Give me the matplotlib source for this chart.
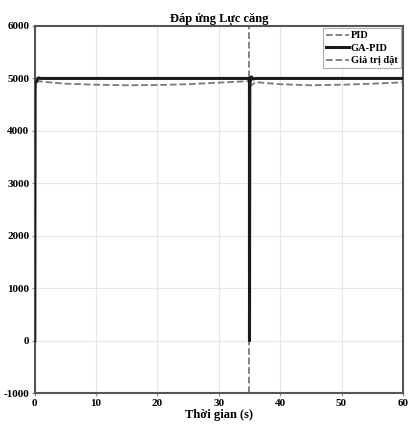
import numpy as np
import matplotlib.pyplot as plt

plt.rcParams['font.family'] = ['Liberation Serif', 'DejaVu Serif']
plt.rcParams['font.weight'] = 'bold'
plt.rcParams['axes.unicode_minus'] = False

# dữ liệu
t_pid = [0, 0.05, 0.5, 2, 5, 10, 15, 20, 25, 30, 34.99, 35, 35.05, 36, 40, 45, 50, 55, 60]
y_pid = [0, 4800, 4950, 4930, 4900, 4880, 4870, 4875, 4890, 4920, 4950, 0, 4850, 4930, 4890, 4870, 4880, 4900, 4925]

t_ga = [0, 0.05, 0.3, 0.6, 1, 34.99, 35.0, 35.05, 35.3, 35.6, 36, 60]
y_ga = [0, 4900, 4950, 5010, 5000, 5000, 0, 4900, 5030, 4990, 5000, 5000]

t_sp = [0, 35, 60]
y_sp = [5000, 5000, 5000]
t_step = 35

fig = plt.figure(figsize=(4.09, 4.26), dpi=100)
ax = fig.add_axes([0.085, 0.077, 0.900, 0.862])

ax.plot(t_sp, y_sp, '--', color='#7a7a7a', lw=1.3, label='Giá trị đặt', zorder=2)
ax.axvline(t_step, ls='--', color='#7a7a7a', lw=1.3, zorder=2)
ax.plot(t_pid, y_pid, '--', color='#7a7a7a', lw=1.3, label='PID', zorder=3)
ax.plot(t_ga, y_ga, '-', color='#1a1a1a', lw=2.2, label='GA-PID', zorder=4)

ax.set_xlim(0, 60)
ax.set_ylim(-1000, 6000)
ax.set_xticks(np.arange(0, 61, 10))
ax.set_yticks(np.arange(-1000, 6001, 1000))
ax.grid(True, color='#e6e6e6', lw=0.8)
ax.tick_params(labelsize=8, length=2, color='#888888', pad=2)
for s in ax.spines.values():
    s.set_color('#555555')
    s.set_linewidth(1.5)

ax.set_title('Đáp ứng Lực căng', fontsize=9, fontweight='bold', pad=3)
ax.set_xlabel('Thời gian (s)', fontsize=9, fontweight='bold', labelpad=1)

h, l = ax.get_legend_handles_labels()
order = [1, 2, 0]
leg = ax.legend([h[i] for i in order], [l[i] for i in order], loc='upper right',
                fontsize=7.5, fancybox=False, handlelength=2.2, handletextpad=0.2,
                borderpad=0.3, labelspacing=0.3, borderaxespad=0.2)
leg.get_frame().set_edgecolor('#999999')
leg.get_frame().set_linewidth(0.8)

fig.savefig('out.png', dpi=100)
